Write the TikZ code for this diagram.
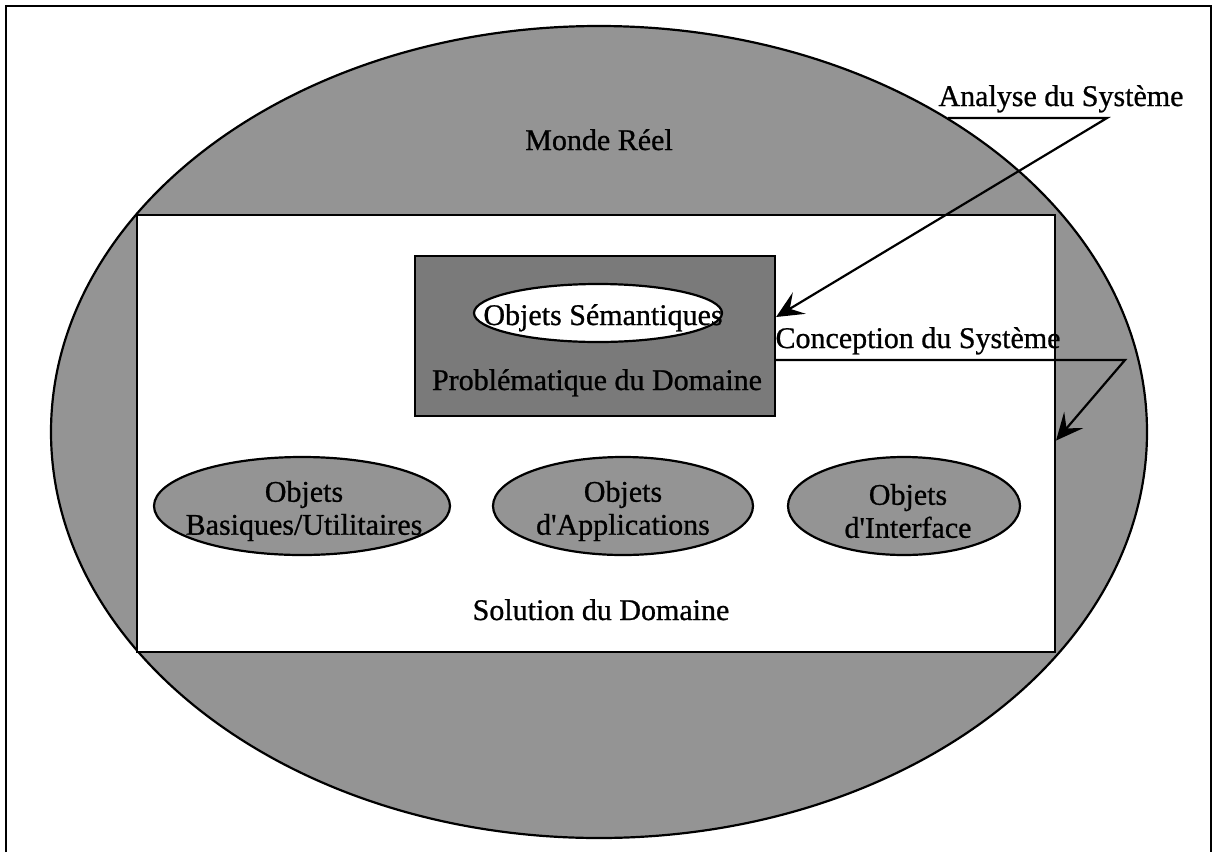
\documentclass[tikz,border=0pt]{standalone}
\usepackage{fontspec}
\setmainfont{Liberation Serif}[UprightFeatures={FakeBold=0.8}]
\usetikzlibrary{shapes.geometric,arrows.meta,calc}
\begin{document}
\begin{tikzpicture}[x=1pt,y=-1pt,
  font=\fontsize{30}{33}\selectfont,
  outl/.style={draw=black,line width=2.2pt},
  shaded/.style={outl,fill=black!42},
  darkbox/.style={outl,fill=black!52},
  oval/.style={ellipse,inner sep=0pt},
  txt/.style={inner sep=0pt,anchor=base},
  twoline/.style={inner sep=0pt,align=center},
  arr/.style={line width=2.2pt,-{Stealth[length=27pt,width=25pt,inset=11pt]}}]
\useasboundingbox (0,0) rectangle (1213,852);
% frame
\draw[line width=2pt] (6,852) -- (6,6) -- (1211,6) -- (1211,852);
% real world
\node[oval,shaded,minimum width=1096pt,minimum height=812pt] (world) at (599,432) {};
\node[txt] (mondetxt) at (599,150) {Monde Réel};
% solution domain
\node[outl,fill=white,minimum width=918pt,minimum height=437pt,inner sep=0pt] (sol) at (596,433.5) {};
\node[txt] (soltxt) at (601,620) {Solution du Domaine};
% problem domain box
\node[darkbox,minimum width=360pt,minimum height=160pt,inner sep=0pt] (box) at (595,336) {};
\node[oval,outl,fill=white,minimum width=248pt,minimum height=58pt] (sem) at (598,313) {};
\node[txt] (semtxt) at (603,325) {Objets Sémantiques};
\node[txt] (probtxt) at (597,390) {Problématique du Domaine};
% bottom row
\node[oval,shaded,minimum width=296pt,minimum height=98pt] (basic) at (302,506) {};
\node[twoline] (basictxt) at (304,511) {Objets\\Basiques/Utilitaires};
\node[oval,shaded,minimum width=260pt,minimum height=98pt] (appl) at (623,506) {};
\node[twoline] (appltxt) at (623,511) {Objets\\d\textquotesingle Applications};
\node[oval,shaded,minimum width=232pt,minimum height=98pt] (intf) at (904,506) {};
\node[twoline] (intftxt) at (908,511) {Objets\\d\textquotesingle Interface};
% annotations
\node[txt] (analyse) at (1061,106) {Analyse du Système};
\node[txt] (concep) at (918,348) {Conception du Système};
\coordinate (a1) at (948,118);
\coordinate (a2) at (1107,118);
\coordinate (tipA) at ($(box.east)+(0,-19)$);
\draw[arr] (a1) -- (a2) -- (tipA);
\coordinate (c1) at ($(box.east)+(0,24)$);
\coordinate (c2) at (1125,360);
\coordinate (tipC) at ($(sol.east)+(0,7)$);
\draw[arr] (c1) -- (c2) -- (tipC);
\end{tikzpicture}
\end{document}
